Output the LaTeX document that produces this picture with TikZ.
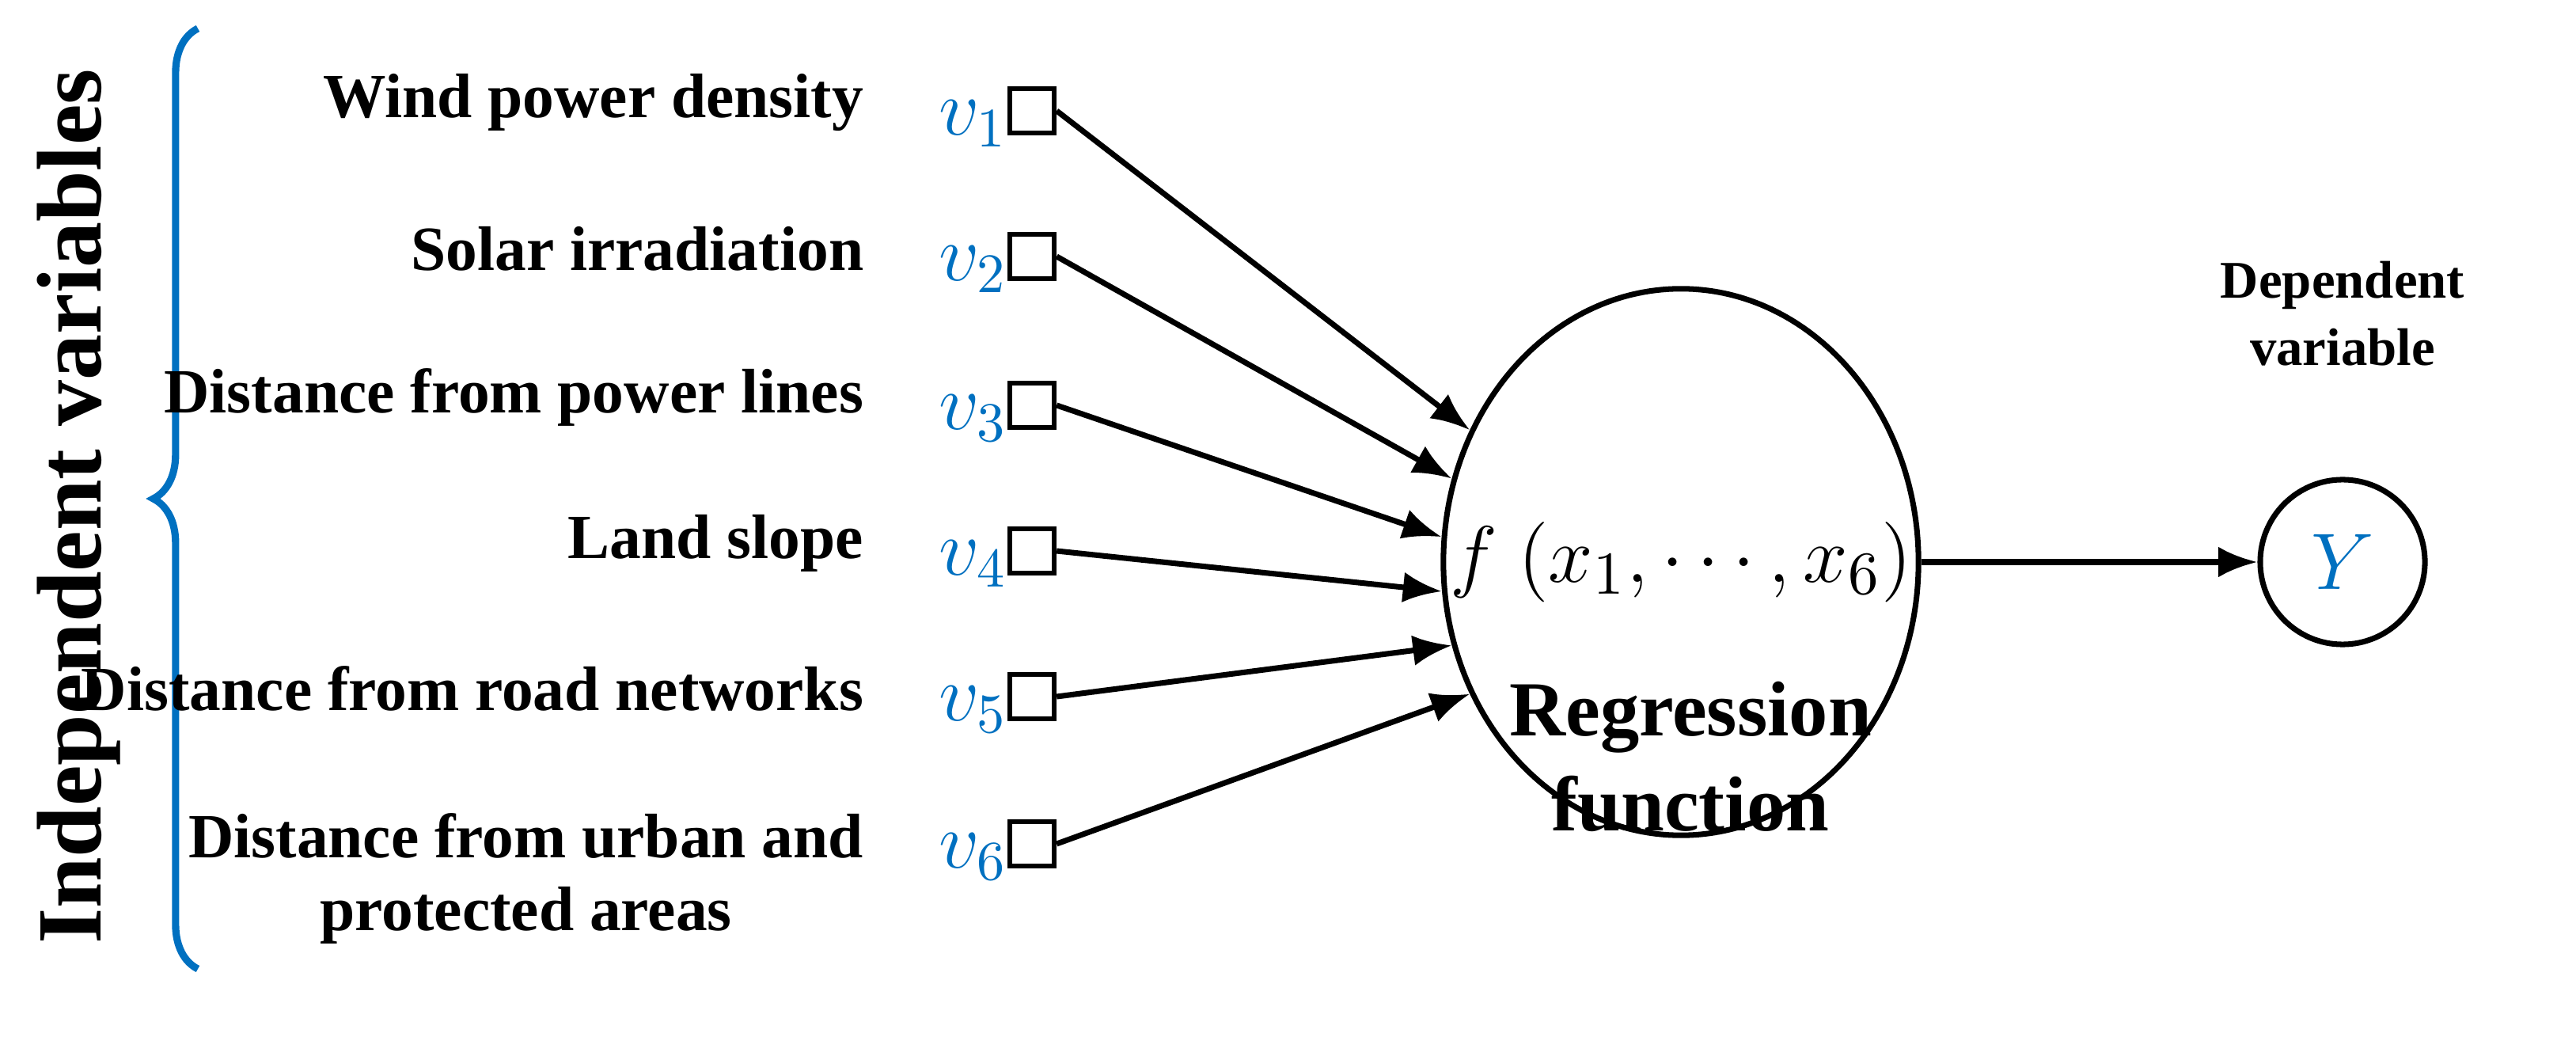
\documentclass[tikz,border=0pt]{standalone}
\usepackage{fontspec}
\setmainfont{Liberation Serif}
\usetikzlibrary{decorations.pathreplacing,arrows.meta,shapes.geometric}
\definecolor{bl}{RGB}{0,112,192}
\begin{document}
\begin{tikzpicture}[x=0.01cm,y=-0.01cm,
  lab/.style={font=\fontsize{11.3}{13}\selectfont\bfseries,anchor=east,align=center},
  var/.style={text=bl,font=\fontsize{14.5}{16}\selectfont,anchor=center},
  sq/.style={draw,line width=0.9pt,minimum size=0.28cm,inner sep=0pt},
  arr/.style={-{Latex[length=7pt,width=5.5pt]},line width=1pt}]
\useasboundingbox (0,0) rectangle (1627.5,655);
\draw[bl,line width=1.3pt,decorate,decoration={brace,amplitude=8pt}] (125,612) -- (125,18);
\node[rotate=90,font=\fontsize{16.5}{19}\selectfont\bfseries] (iv) at (50,320) {Independent variables};
\foreach \i/\y/\t in {1/70/Wind power density,2/162/Solar irradiation,3/256/Distance from power lines,4/348/Land slope,5/440/Distance from road networks}{
  \node[sq] (s\i) at (652,\y) {};
  \node[var] (v\i) at (615,\y+8) {$v_{\i}$};
  \node[lab] (l\i) at (558,\y-5) {\t};
}
\node[sq] (s6) at (652,533) {};
\node[var] (v6) at (615,541) {$v_{6}$};
\node[lab] (l6) at (558,555) {Distance from urban and\\protected areas};
\node[draw,ellipse,line width=1pt,minimum width=3cm,minimum height=3.45cm] (f) at (1062,355) {};
\node[font=\fontsize{15}{17}\selectfont] (ft) at (1062,355) {$f\ (x_1,\cdots,x_6)$};
\foreach \i/\a in {1/148,2/160,3/174,4/187,5/200,6/212}{
  \draw[arr] (s\i.east) -- (f.\a);
}
\node[draw,circle,line width=1pt,minimum size=1.04cm,inner sep=0pt,text=bl,font=\fontsize{14.5}{16}\selectfont] (y) at (1480,355) {$Y$};
\draw[arr] (f.east) -- (y.west);
\node[font=\fontsize{9.5}{12}\selectfont\bfseries,align=center] (dv) at (1480,198) {Dependent\\variable};
\node[font=\fontsize{14}{17}\selectfont\bfseries,align=center] (rf) at (1068,478) {Regression\\function};
\end{tikzpicture}
\end{document}
